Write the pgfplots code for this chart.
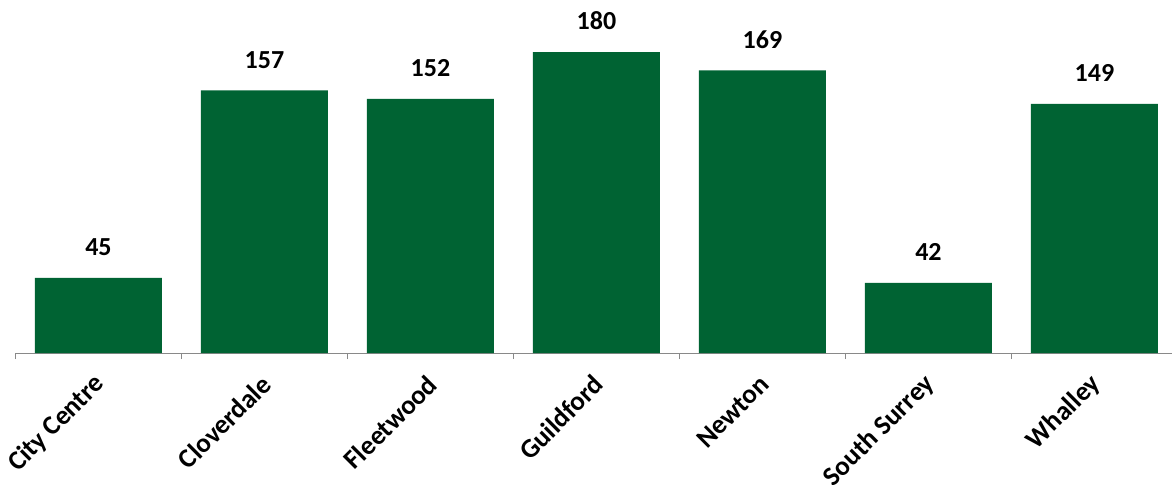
\documentclass[border=0pt]{standalone}
\usepackage{pgfplots}
\pgfplotsset{compat=1.18}
\usepackage{fontspec}
\setmainfont{Carlito}
\definecolor{barg}{HTML}{006333}
\definecolor{axg}{HTML}{898989}
\begin{document}
\begin{tikzpicture}
\clip (-15.5bp,-132bp) rectangle (1156.5bp,353bp);
\begin{axis}[
  at={(0,0)}, anchor=south west,
  width=1156.5bp, height=301bp, scale only axis,
  xmin=-0.5, xmax=6.467, ymin=0, ymax=180,
  axis x line*=bottom, axis y line=none,
  axis line style={axg, line width=1bp},
  ytick=\empty,
  xtick={0,...,6},
  xticklabels={City Centre,Cloverdale,Fleetwood,Guildford,Newton,South Surrey,Whalley},
  major tick length=0pt,
  extra x ticks={-0.5,0.5,1.5,2.5,3.5,4.5,5.5},
  extra x tick labels={},
  extra x tick style={major tick length=6bp, tick align=outside, tick style={axg, line width=1bp}},
  xticklabel style={yshift=-27bp, xshift=2bp, rotate=45, anchor=east, inner sep=0pt, font=\bfseries\fontsize{27bp}{27bp}\selectfont},
  ybar, bar width=127bp,
  nodes near coords,
  nodes near coords style={anchor=base, yshift=22bp, inner sep=0pt, font=\bfseries\fontsize{26bp}{26bp}\selectfont},
  /pgf/number format/assume math mode=true,
  clip=false,
]
\addplot[fill=barg, draw=none] coordinates {(0,45)(1,157)(2,152)(3,180)(4,169)(5,42)(6,149)};
\end{axis}
\end{tikzpicture}
\end{document}
